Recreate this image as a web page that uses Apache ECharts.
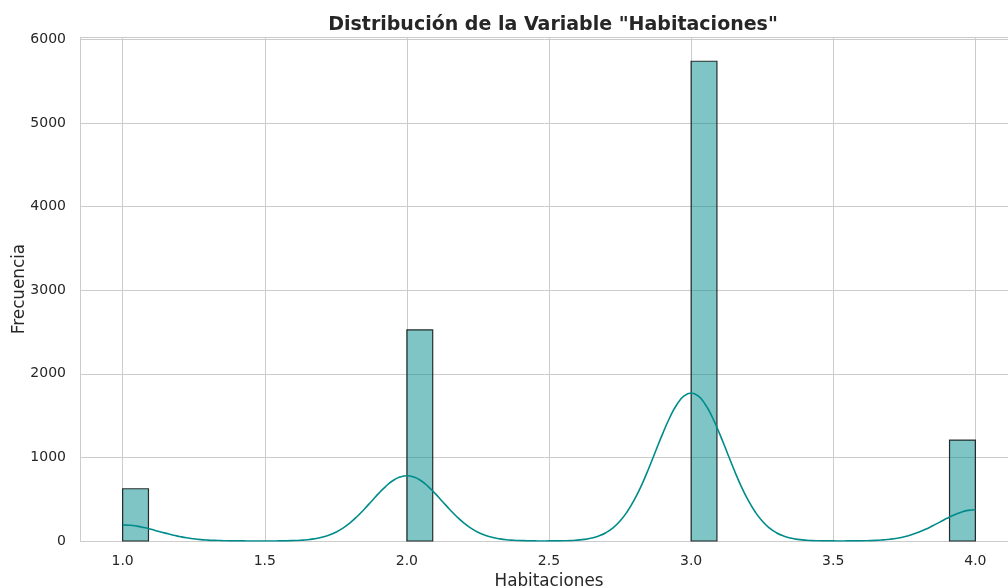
<!DOCTYPE html>
<html>
<head>
<meta charset="utf-8">
<script src="https://cdn.jsdelivr.net/npm/echarts@6/dist/echarts.min.js"></script>
<style>
html,body{margin:0;padding:0;background:#fff;}
#chart{width:1008px;height:588px;}
</style>
</head>
<body>
<div id="chart"></div>
<script>
// Histogram bins (start, end) and counts — 33 bins of width 3/33 over [1, 4]
const binStart = [1.0, 2.0, 3.0, 3.90909];
const binEnd   = [1.09091, 2.09091, 3.09091, 4.0];
const counts   = [625, 2525, 5737, 1207];

// KDE curve
const kdeX = [
  1.000,1.025,1.050,1.075,1.100,1.125,1.150,1.175,1.200,1.225,1.250,1.275,1.300,1.325,1.350,1.375,1.400,1.425,1.450,1.475,
  1.500,1.525,1.550,1.575,1.600,1.625,1.650,1.675,1.700,1.725,1.750,1.775,1.800,1.825,1.850,1.875,1.900,1.925,1.950,1.975,
  2.000,2.025,2.050,2.075,2.100,2.125,2.150,2.175,2.200,2.225,2.250,2.275,2.300,2.325,2.350,2.375,2.400,2.425,2.450,2.475,
  2.500,2.525,2.550,2.575,2.600,2.625,2.650,2.675,2.700,2.725,2.750,2.775,2.800,2.825,2.850,2.875,2.900,2.925,2.950,2.975,
  3.000,3.025,3.050,3.075,3.100,3.125,3.150,3.175,3.200,3.225,3.250,3.275,3.300,3.325,3.350,3.375,3.400,3.425,3.450,3.475,
  3.500,3.525,3.550,3.575,3.600,3.625,3.650,3.675,3.700,3.725,3.750,3.775,3.800,3.825,3.850,3.875,3.900,3.925,3.950,3.975,
  4.000];
const kdeY = [
  193,189,178,161,140,117,94,72,54,38,26,17,11,7,4,2,1,1,0,0,
  0,0,1,2,5,9,15,27,44,69,105,154,217,293,380,473,566,651,720,764,
  780,764,720,651,566,473,380,293,217,154,105,69,44,27,15,9,5,2,1,0,
  1,1,3,5,11,19,35,60,99,157,239,350,492,663,861,1074,1284,1477,1633,1734,
  1769,1734,1633,1477,1284,1074,861,663,492,350,239,157,99,60,35,19,11,5,3,1,
  1,0,1,1,2,4,7,13,21,33,50,74,104,140,182,226,271,311,344,366,
  373];

const xTicks = [1.0, 1.5, 2.0, 2.5, 3.0, 3.5, 4.0];
const yTicks = [0, 1000, 2000, 3000, 4000, 5000, 6000];

const chart = echarts.init(document.getElementById('chart'), null, {renderer:'canvas'});
const font = 'DejaVu Sans';
const gridColor = '#cccccc';
const textColor = '#262626';

const barData = binStart.map((s, i) => [s, binEnd[i], counts[i]]);
const kdeData = kdeX.map((x, i) => [x, kdeY[i]]);

chart.setOption({
  animation: false,
  backgroundColor: '#ffffff',
  title: {
    text: 'Distribución de la Variable "Habitaciones"',
    left: 548, top: 11, textAlign: 'center',
    textStyle: {fontFamily: font, fontWeight: 'bold', fontSize: 19, color: textColor}
  },
  grid: {left: 80, top: 37, width: 938, bottom: 47, containLabel: false, outerBoundsMode: 'none'},
  xAxis: {
    type: 'value', min: 0.85, max: 4.15, minInterval: 0.5, maxInterval: 0.5,
    name: 'Habitaciones', nameLocation: 'middle', nameGap: 32,
    nameTextStyle: {fontFamily: font, fontSize: 16.8, color: textColor},
    axisLine: {show: false}, axisTick: {show: false},
    axisLabel: {fontFamily: font, fontSize: 14, color: textColor, margin: 13,
      showMinLabel: false, showMaxLabel: false,
      formatter: v => xTicks.some(t => Math.abs(t - v) < 1e-9) ? v.toFixed(1) : ''},
    splitLine: {show: true, lineStyle: {color: gridColor, width: 1}}
  },
  yAxis: {
    type: 'value', min: 0, max: 6027, minInterval: 1000, maxInterval: 1000,
    name: 'Frecuencia', nameLocation: 'middle', nameGap: 52, nameMoveOverlap: false,
    nameTextStyle: {fontFamily: font, fontSize: 16.8, color: textColor},
    axisLine: {show: false}, axisTick: {show: false},
    axisLabel: {fontFamily: font, fontSize: 14, color: textColor, margin: 14,
      showMaxLabel: false,
      formatter: v => yTicks.includes(v) ? String(v) : ''},
    splitLine: {show: true, lineStyle: {color: gridColor, width: 1}}
  },
  series: [
    {
      type: 'custom',
      data: barData,
      encode: {x: [0, 1], y: 2},
      z: 2,
      renderItem: (params, api) => {
        const p0 = api.coord([api.value(0), api.value(2)]);
        const p1 = api.coord([api.value(1), 0]);
        return {
          type: 'rect',
          shape: {x: p0[0], y: p0[1], width: p1[0] - p0[0], height: p1[1] - p0[1]},
          style: {fill: 'rgba(0,139,139,0.5)', stroke: 'rgba(0,0,0,0.8)', lineWidth: 1.2}
        };
      }
    },
    {
      type: 'line',
      data: kdeData,
      z: 3,
      smooth: true,
      showSymbol: false,
      symbol: 'none',
      lineStyle: {color: '#008b8b', width: 1.6}
    }
  ]
});
</script>
</body>
</html>
